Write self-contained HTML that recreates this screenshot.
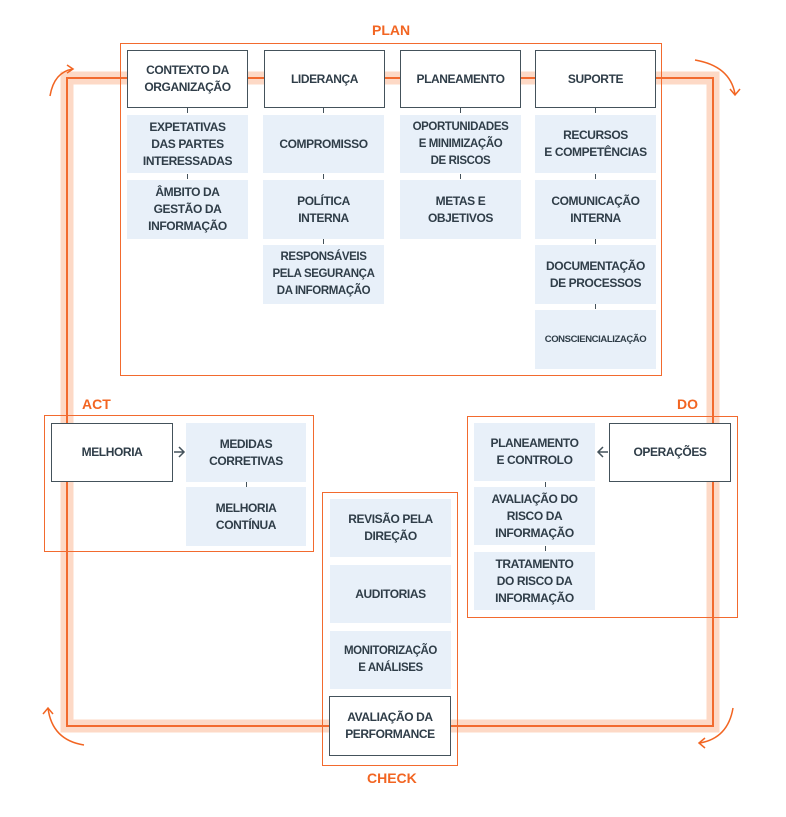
<!DOCTYPE html>
<html><head><meta charset="utf-8"><style>
body{margin:0;width:786px;height:817px;background:#fff;position:relative;overflow:hidden;font-family:"Liberation Sans",sans-serif;}
.b{position:absolute;display:flex;align-items:center;justify-content:center;text-align:center;font-weight:bold;font-size:12px;line-height:17px;color:#2f3d48;box-sizing:border-box;letter-spacing:-0.4px}
.w{background:#fff;border:1.5px solid #44525b}
.l{background:#e8f0f9}
.o{position:absolute;border:1.5px solid #f26a2e;box-sizing:border-box}
.lab{position:absolute;color:#f26522;font-weight:bold;font-size:14px;font-family:"Liberation Sans",sans-serif}
.t{position:absolute;width:1px;height:5px;background:#44525b}
</style></head><body>
<svg width="786" height="817" style="position:absolute;left:0;top:0">
<rect x="67" y="78" width="646" height="648" fill="none" stroke="#fdd9c6" stroke-width="13"/>
<rect x="67" y="78" width="646" height="648" fill="none" stroke="#f26a2e" stroke-width="2"/>
<g fill="none" stroke="#f26522" stroke-width="1.5">
<path d="M50 96 Q54 72 73 69"/><path d="M67 65 L73 69 L67 73"/>
<path d="M695 60 Q730 66 735 94"/><path d="M730 89 L735 95 L740 89"/>
<path d="M733 708 Q728 738 700 743"/><path d="M705 738 L699 743 L705 748"/>
<path d="M84 745 Q52 740 48 708"/><path d="M43 714 L48 708 L53 714"/>
</g>
<g fill="none" stroke="#44525b" stroke-width="1.5">
<path d="M174 452 H184 M179 447 L184 452 L179 457"/>
<path d="M608 452 H598 M603 447 L598 452 L603 457"/>
</g>
</svg>
<div class="o" style="left:120px;top:43px;width:542px;height:333px"></div>
<div class="lab" style="left:372px;top:22px">PLAN</div>
<div class="o" style="left:44px;top:415px;width:270px;height:137px"></div>
<div class="lab" style="left:82px;top:396px">ACT</div>
<div class="o" style="left:467px;top:416px;width:271px;height:202px"></div>
<div class="lab" style="left:677px;top:396px">DO</div>
<div class="o" style="left:322px;top:492px;width:136px;height:274px"></div>
<div class="lab" style="left:367px;top:770px">CHECK</div>

<div class="b w" style="left:127px;top:50px;width:121px;height:58px">CONTEXTO DA<br>ORGANIZAÇÃO</div>
<div class="b w" style="left:264px;top:50px;width:121px;height:58px">LIDERANÇA</div>
<div class="b w" style="left:400px;top:50px;width:121px;height:58px">PLANEAMENTO</div>
<div class="b w" style="left:535px;top:50px;width:121px;height:58px">SUPORTE</div>

<div class="b l" style="left:127px;top:115px;width:121px;height:58px">EXPETATIVAS<br>DAS PARTES<br>INTERESSADAS</div>
<div class="b l" style="left:127px;top:180px;width:121px;height:59px">ÂMBITO DA<br>GESTÃO DA<br>INFORMAÇÃO</div>
<div class="b l" style="left:263px;top:115px;width:121px;height:58px">COMPROMISSO</div>
<div class="b l" style="left:263px;top:180px;width:121px;height:59px">POLÍTICA<br>INTERNA</div>
<div class="b l" style="left:263px;top:245px;width:121px;height:59px;font-size:11.5px">RESPONSÁVEIS<br>PELA SEGURANÇA<br>DA INFORMAÇÃO</div>
<div class="b l" style="left:400px;top:115px;width:121px;height:58px;font-size:11.5px">OPORTUNIDADES<br>E MINIMIZAÇÃO<br>DE RISCOS</div>
<div class="b l" style="left:400px;top:180px;width:121px;height:59px">METAS E<br>OBJETIVOS</div>
<div class="b l" style="left:535px;top:115px;width:121px;height:58px">RECURSOS<br>E COMPETÊNCIAS</div>
<div class="b l" style="left:535px;top:180px;width:121px;height:59px">COMUNICAÇÃO<br>INTERNA</div>
<div class="b l" style="left:535px;top:245px;width:121px;height:59px">DOCUMENTAÇÃO<br>DE PROCESSOS</div>
<div class="b l" style="left:535px;top:310px;width:121px;height:59px;font-size:9.5px">CONSCIENCIALIZAÇÃO</div>
<div class="t" style="left:187px;top:108px"></div><div class="t" style="left:187px;top:174px"></div>
<div class="t" style="left:323px;top:108px"></div><div class="t" style="left:323px;top:174px"></div><div class="t" style="left:323px;top:239px"></div>
<div class="t" style="left:460px;top:108px"></div><div class="t" style="left:460px;top:174px"></div>
<div class="t" style="left:595px;top:108px"></div><div class="t" style="left:595px;top:174px"></div><div class="t" style="left:595px;top:239px"></div><div class="t" style="left:595px;top:304px"></div>

<div class="b w" style="left:51px;top:423px;width:122px;height:59px">MELHORIA</div>
<div class="b l" style="left:186px;top:423px;width:120px;height:59px">MEDIDAS<br>CORRETIVAS</div>
<div class="b l" style="left:186px;top:487px;width:120px;height:59px">MELHORIA<br>CONTÍNUA</div>
<div class="t" style="left:246px;top:482px"></div>

<div class="b w" style="left:609px;top:423px;width:122px;height:59px">OPERAÇÕES</div>
<div class="b l" style="left:474px;top:423px;width:121px;height:58px">PLANEAMENTO<br>E CONTROLO</div>
<div class="b l" style="left:474px;top:487px;width:121px;height:58px">AVALIAÇÃO DO<br>RISCO DA<br>INFORMAÇÃO</div>
<div class="b l" style="left:474px;top:552px;width:121px;height:58px">TRATAMENTO<br>DO RISCO DA<br>INFORMAÇÃO</div>
<div class="t" style="left:545px;top:482px"></div><div class="t" style="left:545px;top:546px"></div>

<div class="b l" style="left:330px;top:499px;width:121px;height:58px">REVISÃO PELA<br>DIREÇÃO</div>
<div class="b l" style="left:330px;top:565px;width:121px;height:58px">AUDITORIAS</div>
<div class="b l" style="left:330px;top:631px;width:121px;height:58px;font-size:11.5px">MONITORIZAÇÃO<br>E ANÁLISES</div>
<div class="b w" style="left:329px;top:696px;width:122px;height:60px">AVALIAÇÃO DA<br>PERFORMANCE</div>
</body></html>
